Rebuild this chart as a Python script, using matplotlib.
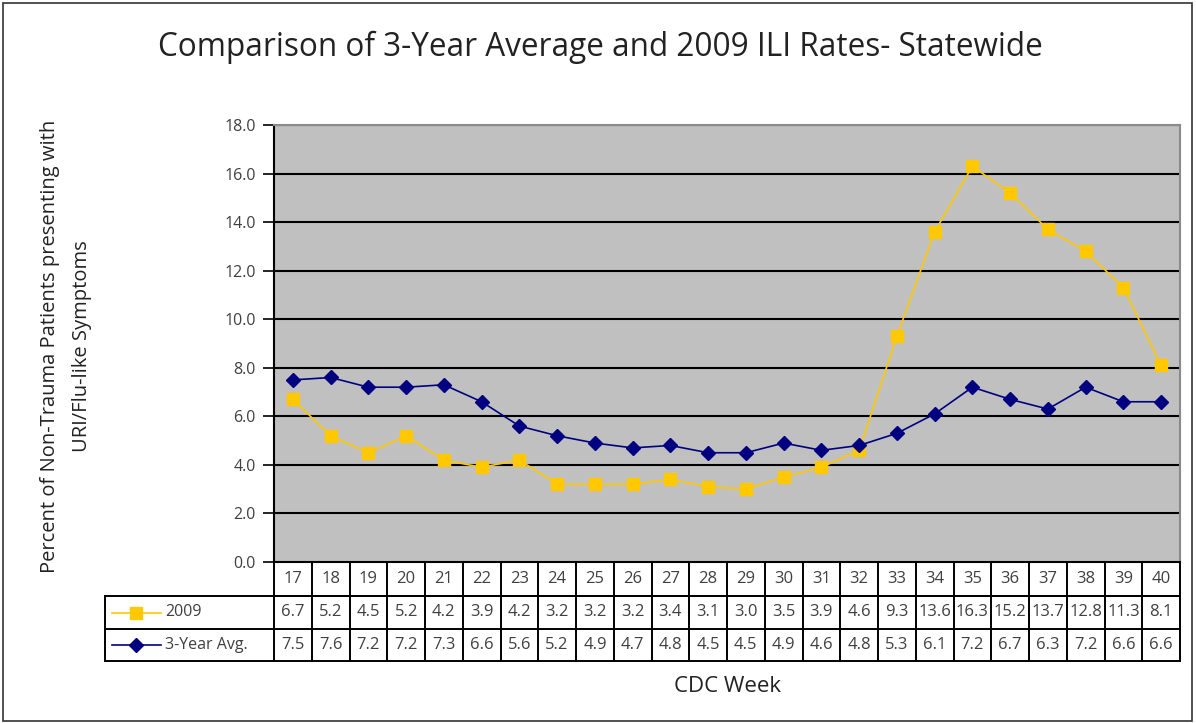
import matplotlib
matplotlib.use("Agg")
import matplotlib.pyplot as plt
from matplotlib.lines import Line2D
from matplotlib.patches import Rectangle

weeks = [17, 18, 19, 20, 21, 22, 23, 24, 25, 26, 27, 28, 29, 30, 31, 32, 33, 34, 35, 36, 37, 38, 39, 40]
rate_2009 = [6.7, 5.2, 4.5, 5.2, 4.2, 3.9, 4.2, 3.2, 3.2, 3.2, 3.4, 3.1, 3.0, 3.5, 3.9, 4.6, 9.3, 13.6, 16.3, 15.2, 13.7, 12.8, 11.3, 8.1]
rate_avg = [7.5, 7.6, 7.2, 7.2, 7.3, 6.6, 5.6, 5.2, 4.9, 4.7, 4.8, 4.5, 4.5, 4.9, 4.6, 4.8, 5.3, 6.1, 7.2, 6.7, 6.3, 7.2, 6.6, 6.6]
series_names = ["2009", "3-Year Avg."]
yticks = [0, 2, 4, 6, 8, 10, 12, 14, 16, 18]

plt.rcParams['font.family'] = ['Open Sans', 'DejaVu Sans']

W, H = 1196, 723
fig = plt.figure(figsize=(W / 100, H / 100), dpi=100)
fig.patch.set_facecolor('white')

def fx(px):
    return px / W

def fy(py):
    return 1 - py / H

# outer border
fig.patches.append(Rectangle((fx(3), fy(721)), fx(1192) - fx(3), fy(3) - fy(721),
                             transform=fig.transFigure, fill=False, edgecolor='#333333', lw=1.2))

L, R, T, B = 274, 1180, 125, 562
ax = fig.add_axes([fx(L), fy(B), fx(R) - fx(L), fy(T) - fy(B)])
ax.set_facecolor('#C0C0C0')
n = len(weeks)
x = list(range(n))
ax.set_xlim(-0.5, n - 0.5)
ax.set_ylim(0, 18)
ax.set_yticks(yticks)
ax.set_yticklabels([f"{v:.1f}" for v in yticks], fontsize=11.5, color='#404040')
ax.set_xticks([])
for v in yticks[1:]:
    ax.axhline(v, color='black', lw=1.5, zorder=1)
ax.tick_params(axis='y', length=8, width=1.2, direction='out', pad=5)
for s in ['top', 'right']:
    ax.spines[s].set_color('#8a8a8a')
    ax.spines[s].set_linewidth(1.5)
ax.spines['left'].set_linewidth(1.5)
ax.spines['bottom'].set_linewidth(1.5)

c2009 = '#FFC800'
cavg = '#000080'
ax.plot(x, rate_2009, color=c2009, lw=1.2, marker='s', ms=9, mfc=c2009, mec=c2009, zorder=3)
ax.plot(x, rate_avg, color=cavg, lw=1.2, marker='D', ms=7, mfc=cavg, mec=cavg, zorder=4)

# title
fig.text(fx(600), fy(47), "Comparison of 3-Year Average and 2009 ILI Rates- Statewide",
         ha='center', va='center', fontsize=22.7, color='#222222')

# y label
fig.text(fx(66), fy(346), "Percent of Non-Trauma Patients presenting with\nURI/Flu-like Symptoms",
         ha='center', va='center', rotation=90, fontsize=14.5, color='#222222', linespacing=1.75)

# x label
fig.text(fx((L + R) / 2), fy(686), "CDC Week", ha='center', va='center', fontsize=16, color='#222222')

# data table
TL = 105
rows_y = [562, 596, 629, 661]
tax = fig.add_axes([fx(TL), fy(rows_y[-1]), fx(R) - fx(TL), fy(rows_y[0]) - fy(rows_y[-1])])
tax.set_xlim(TL, R)
tax.set_ylim(rows_y[-1], rows_y[0])
tax.axis('off')
cw = (R - L) / n
lw_t = 1.4
tax.plot([L, R], [rows_y[1], rows_y[1]], color='black', lw=lw_t, clip_on=False)
tax.plot([TL, R], [rows_y[1], rows_y[1]], color='black', lw=lw_t, clip_on=False)
tax.plot([TL, R], [rows_y[2], rows_y[2]], color='black', lw=lw_t, clip_on=False)
tax.plot([TL, R], [rows_y[3], rows_y[3]], color='black', lw=lw_t, clip_on=False)
tax.plot([TL, TL], [rows_y[1], rows_y[3]], color='black', lw=lw_t, clip_on=False)
for i in range(n + 1):
    xx = L + i * cw
    tax.plot([xx, xx], [rows_y[0], rows_y[3]], color='black', lw=lw_t, clip_on=False)

tcol = '#404040'
tfs = 12
for i in range(n):
    xc = L + (i + 0.5) * cw
    tax.text(xc, (rows_y[0] + rows_y[1]) / 2, str(weeks[i]), ha='center', va='center', fontsize=tfs, color=tcol)
    tax.text(xc, (rows_y[1] + rows_y[2]) / 2, f"{rate_2009[i]:.1f}", ha='center', va='center', fontsize=tfs, color=tcol)
    tax.text(xc, (rows_y[2] + rows_y[3]) / 2, f"{rate_avg[i]:.1f}", ha='center', va='center', fontsize=tfs, color=tcol)

for r, (name, col, mk, ms) in enumerate([(series_names[0], c2009, 's', 9), (series_names[1], cavg, 'D', 7)]):
    yc = (rows_y[r + 1] + rows_y[r + 2]) / 2
    tax.add_line(Line2D([112, 161], [yc, yc], color=col, lw=1.2, clip_on=False))
    tax.add_line(Line2D([136], [yc], marker=mk, ms=ms, mfc=col, mec=col, clip_on=False))
    tax.text(165, yc, name, ha='left', va='center', fontsize=11.5, color=tcol)

fig.savefig("out.png", dpi=100)
